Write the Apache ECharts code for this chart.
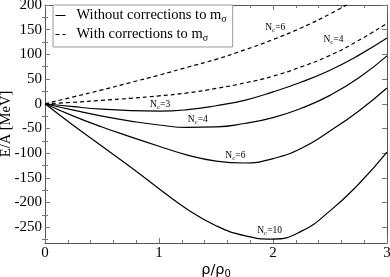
<!DOCTYPE html>
<html>
<head>
<meta charset="utf-8">
<script src="https://cdn.jsdelivr.net/npm/echarts@6/dist/echarts.min.js"></script>
<style>html,body{margin:0;padding:0;background:#fff}#c{width:390px;height:277px}</style>
</head>
<body>
<div id="c"></div>
<script>
// density rho/rho0
const rho = [0, 0.25, 0.5, 0.75, 1, 1.25, 1.5, 1.75, 2, 2.25, 2.5, 2.75, 3];
// Without corrections to m_sigma
const woNc3  = [0, -6, -11, -14, -15, -12, -4, 7, 24, 44, 68, 98, 133];
const woNc4  = [0, -13, -25, -35, -43, -48, -47, -40, -28, -9, 17, 52, 97];
const woNc6  = [0, -25, -47, -67, -86, -104, -116, -120, -111, -90, -55, -15, 32];
const woNc10 = [0, -44, -86, -128, -172, -214, -247, -267, -274, -258, -217, -163, -98];
// With corrections to m_sigma
const wNc4 = [0, 3, 7, 11, 16, 22, 31, 42, 56, 75, 98, 128, 163];
const wNc6 = [0, 14, 28, 43, 58, 74, 90, 109, 130, 154, 182, 214, 250];
// tick labels
const xTicks = [0, 1, 2, 3];
const yMajor = [-250, -200, -150, -100, -50, 0, 50, 100, 150, 200];
const yMinor = [-275, -225, -175, -125, -75, -25, 25, 75, 125, 175];

const SERIF = '"Liberation Serif","DejaVu Serif",serif';
const pair = a => rho.map((x, i) => [x, a[i]]);
const nRich = {
  n: {fontFamily: SERIF, fontSize: 9.5, color: '#000'},
  s: {fontFamily: SERIF, fontSize: 7, color: '#000', padding: [6, 0, 0, 0]}
};
function tag(nc, coord) {
  return {
    symbol: 'circle', symbolSize: 0, silent: true,
    label: {show: true, position: 'inside', formatter: '{n|N}{s|c}{n|=' + nc + '}', rich: nRich},
    data: [{coord: coord}]
  };
}
function mk(name, data, dashed, nc, coord) {
  return {
    type: 'line', name: name, data: pair(data), smooth: true, symbol: 'none',
    lineStyle: {color: '#000', width: 1.2, type: dashed ? [4, 3] : 'solid'},
    itemStyle: {color: '#000'},
    markPoint: tag(nc, coord), z: 3
  };
}
const axLine = {show: true, onZero: false, lineStyle: {color: '#555', width: 1}};
const tickStyle = {color: '#777', width: 1};
function yAx(pos, values, len, line, labels) {
  return {
    type: 'value', min: -282, max: 200, position: pos,
    axisLine: line ? axLine : {show: false},
    axisTick: {show: true, inside: true, length: len, lineStyle: tickStyle, customValues: values},
    axisLabel: labels ? {show: true, customValues: values, fontFamily: SERIF, fontSize: 15, color: '#000', margin: 3, padding: [2, 0, 0, 0]} : {show: false},
    splitLine: {show: false}
  };
}
const yAxes = [yAx('left', yMajor, 5, true, true), yAx('left', yMinor, 3, false, false),
               yAx('right', yMajor, 5, true, false), yAx('right', yMinor, 3, false, false)];
yAxes[0].name = 'E/A [MeV]';
yAxes[0].nameLocation = 'middle';
yAxes[0].nameGap = 31;
yAxes[0].nameMoveOverlap = false;
yAxes[0].nameTextStyle = {fontFamily: SERIF, fontSize: 14.5, color: '#000'};

function xAx(pos, labels) {
  return {
    type: 'value', min: 0, max: 3, interval: 1, position: pos,
    axisLine: axLine,
    axisTick: {show: true, inside: true, length: 5, lineStyle: tickStyle},
    minorTick: {show: true, splitNumber: 5, length: 3, lineStyle: tickStyle},
    splitLine: {show: false}, minorSplitLine: {show: false},
    axisLabel: labels ? {show: true, fontFamily: SERIF, fontSize: 15, color: '#000', margin: 3,
      customValues: xTicks} : {show: false}
  };
}
const xAxes = [xAx('bottom', true), xAx('top', false)];
xAxes[0].name = '{a|ρ/ρ}{b|0}';
xAxes[0].nameLocation = 'middle';
xAxes[0].nameGap = 19;
xAxes[0].nameMoveOverlap = false;
xAxes[0].nameTextStyle = {rich: {
  a: {fontFamily: '"DejaVu Sans",sans-serif', fontSize: 14.5, color: '#000'},
  b: {fontFamily: '"DejaVu Sans",sans-serif', fontSize: 10, color: '#000', padding: [7, 0, 0, 0]}
}};

const chart = echarts.init(document.getElementById('c'), null, {renderer: 'canvas'});
chart.setOption({
  animation: false,
  backgroundColor: '#fff',
  grid: {left: 45, right: 3, top: 5, bottom: 34, containLabel: false, outerBoundsMode: 'none'},
  xAxis: xAxes,
  yAxis: yAxes,
  legend: {
    data: ['without', 'with'], orient: 'vertical', left: 53, top: 5,
    padding: [3, 6, 4, 2], itemGap: 3, itemWidth: 10, itemHeight: 10,
    borderColor: '#999', borderWidth: 1, backgroundColor: '#fff',
    itemStyle: {opacity: 0},
    lineStyle: {width: 1},
    formatter: n => n === 'without' ? '{t|Without corrections to m}{s|σ}' : '{t|With corrections to m}{s|σ}',
    textStyle: {padding: [0, 0, 0, 6], rich: {
      t: {fontFamily: SERIF, fontSize: 14.5, color: '#000'},
      s: {fontFamily: SERIF, fontSize: 10, color: '#000', padding: [7, 0, 0, 0]}
    }}
  },
  series: [
    mk('without', woNc3, false, 3, [1.01, -1]),
    mk('without', woNc4, false, 4, [1.34, -32]),
    mk('without', woNc6, false, 6, [1.67, -105]),
    mk('without', woNc10, false, 10, [1.97, -257]),
    mk('with', wNc4, true, 4, [2.53, 130]),
    mk('with', wNc6, true, 6, [2.02, 155])
  ]
});
</script>
</body>
</html>
